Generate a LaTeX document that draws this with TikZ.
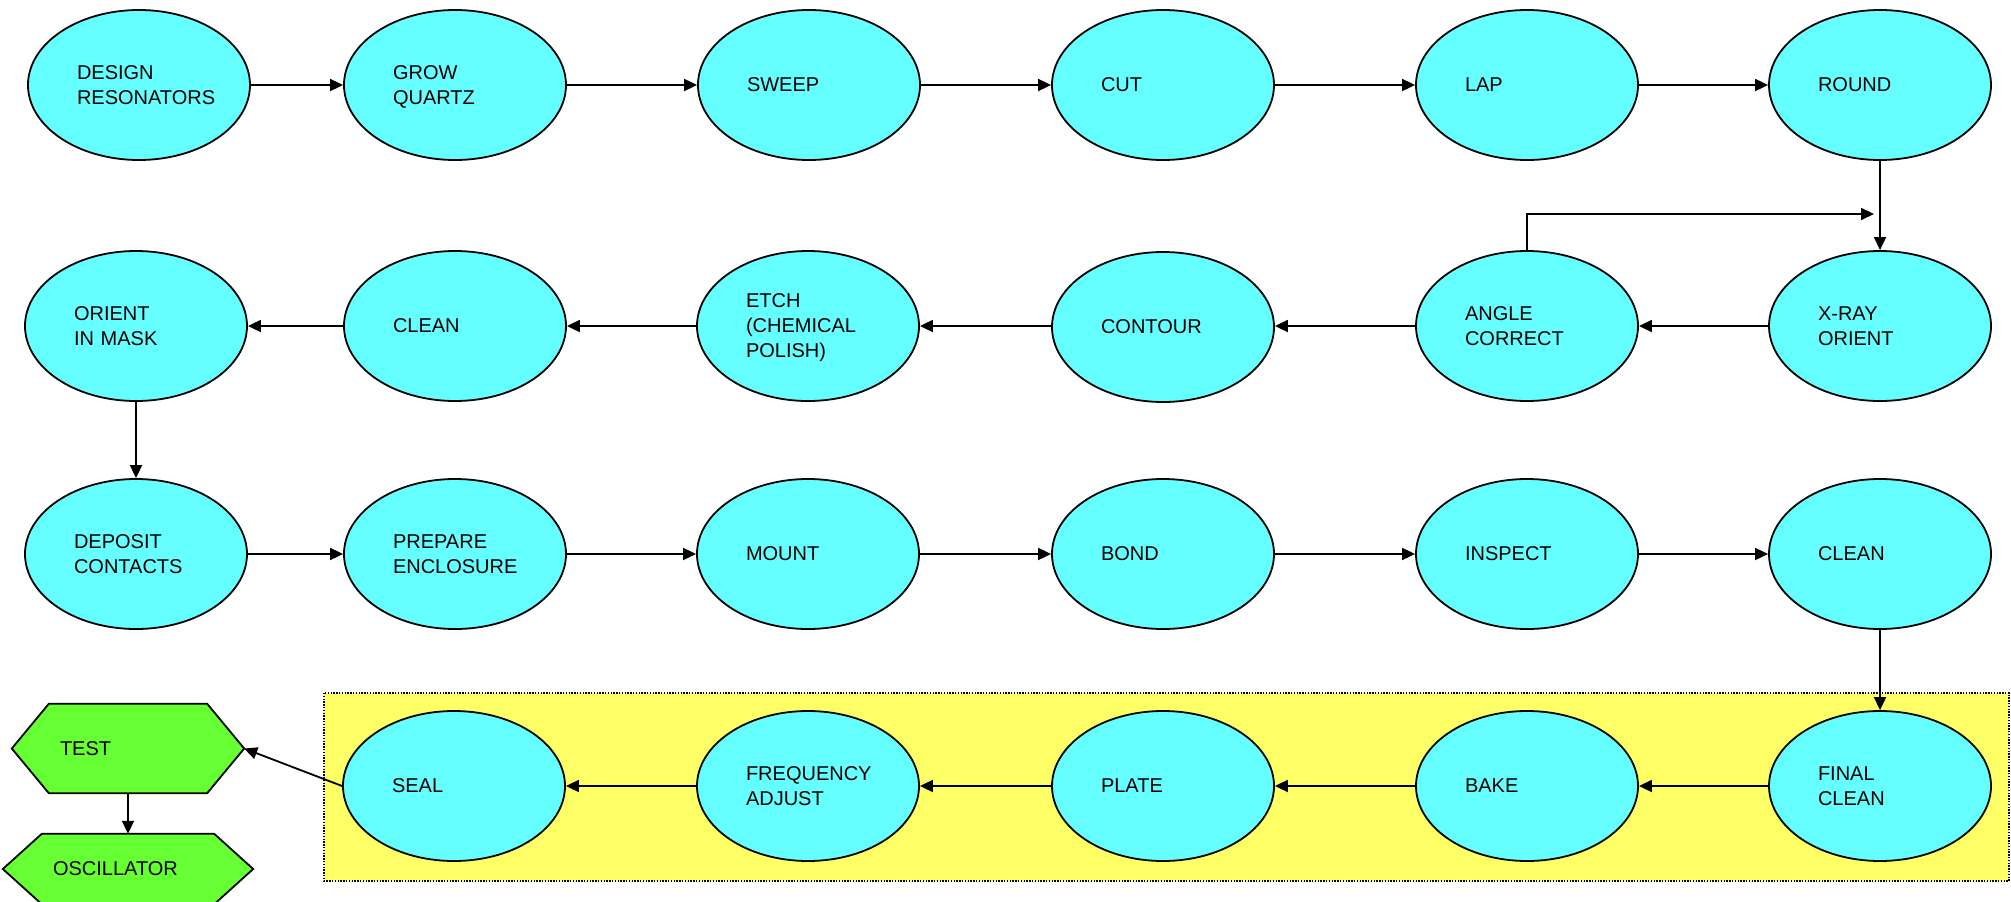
\documentclass[tikz,border=0pt]{standalone}
\usepackage{fontspec}
\setmainfont{Liberation Sans}
\usetikzlibrary{arrows.meta,backgrounds,shapes.geometric}
\definecolor{stepcyan}{RGB}{102,255,255}
\definecolor{groupyellow}{RGB}{255,255,102}
\definecolor{endgreen}{RGB}{102,255,51}
% keep descenders of a last line out of the vertical centring
\newcommand{\nodepth}[1]{\raisebox{0pt}[\height][0pt]{#1}}
\begin{document}
\begin{tikzpicture}[x=1pt,y=-1pt,
  labelfont/.style={font=\fontsize{20}{25}\selectfont},
  proc/.style={ellipse, draw, line width=1.8pt, fill=stepcyan,
    minimum width=222pt, minimum height=150pt, inner sep=0pt,
    text width=124pt, align=left, labelfont},
  hexnode/.style={rectangle, inner sep=0pt, align=left, labelfont},
  hexline/.style={draw, line width=1.8pt, fill=endgreen, line join=miter},
  arr/.style={-{Triangle[length=13pt,width=12pt]}, line width=1.8pt},
  groupbox/.style={fill=groupyellow, draw, line width=1.4pt,
    dash pattern=on 1.4pt off 1.4pt}]
\useasboundingbox (0,0) rectangle (2011,902);

% highlighted final stage
\path[groupbox] (324,693) rectangle (2009,881);

% row 1
\node[proc] (design) at (139,85)  {DESIGN\\RESONATORS};
\node[proc] (grow)   at (455,85)  {GROW\\\nodepth{QUARTZ}};
\node[proc] (sweep)  at (809,85)  {SWEEP};
\node[proc] (cut)    at (1163,85) {CUT};
\node[proc] (lap)    at (1527,85) {LAP};
\node[proc] (round)  at (1880,85) {ROUND};

% row 2
\node[proc] (orient)  at (136,326)  {ORIENT\\IN MASK};
\node[proc] (cleanA)  at (455,326)  {CLEAN};
\node[proc] (etch)    at (808,326)  {ETCH\\(CHEMICAL\\\nodepth{POLISH)}};
\node[proc] (contour) at (1163,327) {CONTOUR};
\node[proc] (angle)   at (1527,326) {ANGLE\\CORRECT};
\node[proc] (xray)    at (1880,326) {X-RAY\\ORIENT};

% row 3
\node[proc] (deposit) at (136,554)  {DEPOSIT\\CONTACTS};
\node[proc] (prepare) at (455,554)  {PREPARE\\ENCLOSURE};
\node[proc] (mount)   at (808,554)  {MOUNT};
\node[proc] (bond)    at (1163,554) {BOND};
\node[proc] (inspect) at (1527,554) {INSPECT};
\node[proc] (cleanB)  at (1880,554) {CLEAN};

% row 4
\node[proc] (seal)  at (454,786)  {SEAL};
\node[proc] (freq)  at (808,786)  {FREQUENCY\\ADJUST};
\node[proc] (plate) at (1163,786) {PLATE};
\node[proc] (bake)  at (1527,786) {BAKE};
\node[proc] (final) at (1880,786) {FINAL\\CLEAN};

% end products
\node[hexnode, minimum width=232pt, minimum height=89pt, text width=136pt]
  (test) at (128,748.5) {TEST};
\node[hexnode, minimum width=250pt, minimum height=70pt, text width=150pt]
  (osc) at (128,869) {OSCILLATOR};
\begin{pgfonlayer}{background}
  \path[hexline] (test.west) -- ([xshift=37pt]test.north west)
    -- ([xshift=-37pt]test.north east) -- (test.east)
    -- ([xshift=-37pt]test.south east) -- ([xshift=37pt]test.south west) -- cycle;
  \path[hexline] (osc.west) -- ([xshift=39pt]osc.north west)
    -- ([xshift=-39pt]osc.north east) -- (osc.east)
    -- ([xshift=-39pt]osc.south east) -- ([xshift=39pt]osc.south west) -- cycle;
\end{pgfonlayer}

% connectors
\draw[arr] (design.east) -- (grow.west);
\draw[arr] (grow.east) -- (sweep.west);
\draw[arr] (sweep.east) -- (cut.west);
\draw[arr] (cut.east) -- (lap.west);
\draw[arr] (lap.east) -- (round.west);
\draw[arr] (round.south) -- (xray.north);

\draw[arr] (xray.west) -- (angle.east);
\draw[arr] (angle.west) -- (contour.east |- angle.west);
\draw[arr] (contour.west |- etch.east) -- (etch.east);
\draw[arr] (etch.west) -- (cleanA.east);
\draw[arr] (cleanA.west) -- (orient.east);
\coordinate (recheck) at (1874,214);
\draw[arr] (angle.north) |- (recheck);
\draw[arr] (orient.south) -- (deposit.north);

\draw[arr] (deposit.east) -- (prepare.west);
\draw[arr] (prepare.east) -- (mount.west);
\draw[arr] (mount.east) -- (bond.west);
\draw[arr] (bond.east) -- (inspect.west);
\draw[arr] (inspect.east) -- (cleanB.west);
\draw[arr] (cleanB.south) -- (final.north);

\draw[arr] (final.west) -- (bake.east);
\draw[arr] (bake.west) -- (plate.east);
\draw[arr] (plate.west) -- (freq.east);
\draw[arr] (freq.west) -- (seal.east);
\draw[arr] (seal.west) -- (test.east);
\draw[arr] (test.south) -- (osc.north);
\end{tikzpicture}
\end{document}
